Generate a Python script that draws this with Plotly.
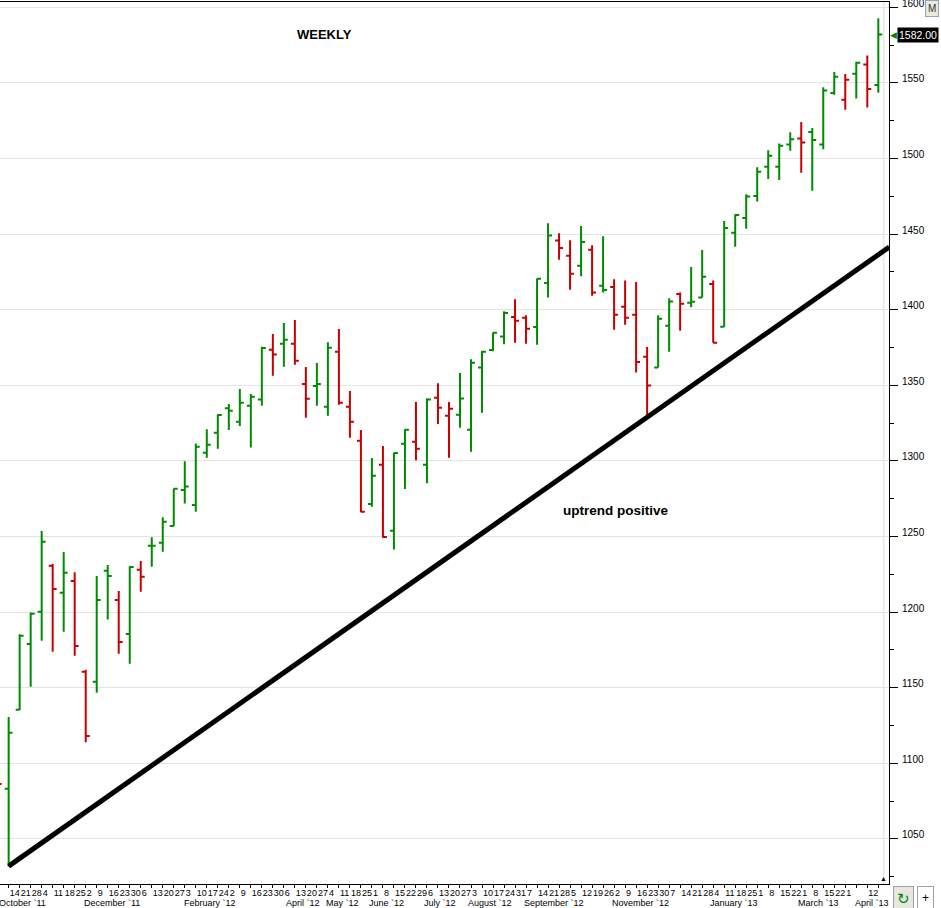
import pandas as pd
import plotly.graph_objects as go


# weekly bars, week ending on friday (the first one is cut off at the left edge)
weeks = pd.date_range("2011-10-07", periods=81, freq="W-FRI")

opens = [1150.0, 1083.2, 1135.5, 1178.9, 1200.3, 1230.7, 1212.8, 1220.6, 1160.6, 1154.0,
         1227.4, 1208.0, 1185.5, 1228.1, 1243.9, 1245.9, 1256.9, 1280.8, 1270.8, 1305.4,
         1318.6, 1334.8, 1325.9, 1336.5, 1340.7, 1373.6, 1377.5, 1377.5, 1350.9, 1349.5,
         1335.9, 1372.2, 1335.9, 1313.4, 1271.5, 1297.5, 1253.9, 1311.4, 1312.7, 1297.5,
         1341.8, 1329.9, 1330.6, 1320.6, 1361.7, 1373.3, 1382.2, 1395.2, 1394.7, 1388.6,
         1417.7, 1445.7, 1435.7, 1429.1, 1439.7, 1415.9, 1415.0, 1402.0, 1396.7, 1368.9,
         1361.7, 1389.4, 1410.4, 1404.6, 1408.0, 1417.0, 1388.8, 1450.9, 1460.6, 1475.2,
         1494.6, 1494.6, 1509.2, 1513.3, 1517.5, 1509.2, 1543.3, 1538.9, 1556.1, 1562.1,
         1548.6]
highs = [1170.0, 1130.6, 1185.3, 1199.8, 1253.6, 1231.8, 1239.7, 1226.3, 1161.9, 1223.9,
         1231.1, 1213.9, 1230.3, 1233.8, 1249.6, 1262.7, 1281.8, 1299.7, 1311.6, 1320.9,
         1330.8, 1337.6, 1347.5, 1344.2, 1375.5, 1384.0, 1391.2, 1393.2, 1362.1, 1364.7,
         1378.5, 1387.2, 1346.2, 1320.4, 1301.9, 1309.9, 1305.4, 1320.9, 1338.9, 1341.4,
         1351.3, 1338.9, 1358.1, 1367.2, 1372.7, 1385.0, 1398.9, 1406.9, 1396.3, 1420.7,
         1457.1, 1450.5, 1445.9, 1455.4, 1442.6, 1448.5, 1420.1, 1419.4, 1418.3, 1375.3,
         1396.3, 1407.5, 1411.3, 1428.2, 1439.5, 1419.4, 1458.7, 1463.1, 1476.3, 1494.2,
         1505.4, 1510.0, 1517.3, 1524.1, 1520.2, 1547.1, 1557.2, 1555.9, 1564.0, 1568.2,
         1592.7]
lows = [1075.0, 1031.6, 1135.2, 1150.7, 1181.1, 1173.8, 1187.1, 1171.2, 1113.9, 1146.7,
        1195.2, 1172.5, 1165.9, 1213.5, 1230.0, 1240.0, 1256.9, 1271.9, 1266.4, 1302.1,
        1308.1, 1320.4, 1323.1, 1308.8, 1336.5, 1356.4, 1362.3, 1363.6, 1328.6, 1336.5,
        1329.9, 1337.2, 1315.4, 1266.0, 1269.7, 1249.2, 1241.5, 1281.4, 1300.4, 1285.2,
        1324.4, 1302.1, 1322.0, 1306.1, 1331.9, 1372.5, 1377.1, 1378.2, 1377.5, 1376.9,
        1408.0, 1433.1, 1413.2, 1422.1, 1409.3, 1411.3, 1386.8, 1390.1, 1358.4, 1329.9,
        1361.7, 1372.2, 1386.1, 1401.6, 1408.0, 1378.2, 1388.8, 1441.7, 1453.6, 1471.5,
        1486.4, 1485.8, 1505.2, 1490.6, 1478.7, 1506.1, 1542.2, 1532.3, 1539.6, 1533.8,
        1543.5]
closes = [1086.3, 1120.3, 1184.4, 1198.9, 1246.6, 1215.3, 1226.1, 1177.6, 1118.0, 1208.0,
          1223.9, 1180.2, 1229.8, 1223.4, 1243.9, 1259.8, 1281.6, 1283.0, 1309.4, 1310.7,
          1330.4, 1333.2, 1338.5, 1342.5, 1374.7, 1370.3, 1380.2, 1366.3, 1341.1, 1350.9,
          1374.9, 1338.5, 1325.9, 1266.4, 1290.2, 1249.7, 1305.2, 1320.6, 1308.1, 1340.7,
          1335.2, 1334.5, 1341.2, 1365.0, 1372.2, 1384.8, 1397.8, 1392.7, 1387.4, 1420.5,
          1449.0, 1440.8, 1423.8, 1444.8, 1411.3, 1413.0, 1396.7, 1394.7, 1365.4, 1349.8,
          1394.1, 1405.5, 1404.0, 1405.3, 1421.8, 1378.2, 1454.0, 1462.6, 1474.8, 1491.3,
          1501.9, 1508.5, 1512.7, 1510.5, 1512.2, 1544.9, 1554.1, 1552.1, 1563.4, 1546.0,
          1582.0]

week_labels = ["7", "14", "21", "28", "4", "11", "18", "25", "2", "9",
               "16", "23", "30", "6", "13", "20", "27", "3", "10", "17",
               "24", "2", "9", "16", "23", "30", "6", "13", "20", "27",
               "4", "11", "18", "25", "1", "8", "15", "22", "29", "6",
               "13", "20", "27", "3", "10", "17", "24", "31", "7", "14",
               "21", "28", "5", "12", "19", "26", "2", "9", "16", "23",
               "30", "7", "14", "21", "28", "4", "11", "18", "25", "1",
               "8", "15", "22", "1", "8", "15", "22", "1", "", "12",
               ""]

month_names = ["October `11", "December `11", "February `12", "April `12", "May `12",
               "June `12", "July `12", "August `12", "September `12", "November `12",
               "January `13", "March `13", "April `13"]
month_pos = ["2011-10-23", "2011-12-19", "2012-02-19", "2012-04-18", "2012-05-13",
             "2012-06-10", "2012-07-14", "2012-08-15", "2012-09-25", "2012-11-19",
             "2013-01-17", "2013-03-12", "2013-04-15"]

trend_dates = ["2011-10-14", "2013-04-26"]
trend_values = [1032.0, 1441.5]

GREEN = "#008c00"
RED = "#c80000"

# bar colour follows the close of the week before
up = [closes[0] > opens[0]] + [closes[i] > closes[i - 1] for i in range(1, len(closes))]

fig = go.Figure()

for flag, col in ((True, GREEN), (False, RED)):
    idx = [i for i, u in enumerate(up) if u == flag]
    fig.add_trace(go.Ohlc(
        x=[weeks[i] for i in idx],
        open=[opens[i] for i in idx],
        high=[highs[i] for i in idx],
        low=[lows[i] for i in idx],
        close=[closes[i] for i in idx],
        increasing_line_color=col,
        decreasing_line_color=col,
        line_width=2,
        tickwidth=0.36,
        hoverinfo="skip",
    ))

fig.add_trace(go.Scatter(x=trend_dates, y=trend_values, mode="lines",
                         line=dict(color="black", width=5), hoverinfo="skip"))

x_left = weeks[1] - pd.Timedelta(days=5.5)
x_right = weeks[-1] + pd.Timedelta(days=6.8)
now_line = weeks[-1] + pd.Timedelta(days=3.5)

fig.update_layout(
    width=941,
    height=908,
    margin=dict(l=0, r=52, t=2, b=24),
    paper_bgcolor="white",
    plot_bgcolor="white",
    showlegend=False,
    font=dict(family="Liberation Sans, Arial, sans-serif", size=10, color="black"),
    xaxis=dict(
        type="date",
        range=[x_left, x_right],
        rangeslider=dict(visible=False),
        automargin=False,
        tickmode="array",
        tickvals=list(weeks),
        ticktext=week_labels,
        tickangle=0,
        ticks="outside",
        ticklen=3,
        tickcolor="black",
        ticklabelposition="outside right",
        tickfont=dict(size=9),
        showgrid=False,
        zeroline=False,
        showline=True,
        linecolor="black",
        linewidth=1,
        mirror=True,
    ),
    yaxis=dict(
        side="right",
        range=[1020.2, 1603.5],
        automargin=False,
        tick0=1000,
        dtick=50,
        ticks="outside",
        ticklen=8,
        tickcolor="black",
        ticklabelstandoff=2,
        ticklabelshift=-4,
        ticklabeloverflow="allow",
        showgrid=True,
        gridcolor="#e4e4e4",
        gridwidth=1,
        minor=dict(tick0=1000, dtick=25, ticks="outside", ticklen=4,
                   tickcolor="black", showgrid=False),
        showline=True,
        linecolor="black",
        linewidth=1,
        zeroline=False,
    ),
)

fig.add_shape(type="line", xref="x", yref="paper", x0=now_line, x1=now_line, y0=0, y1=1,
              line=dict(color="#dcdcdc", width=1), layer="below")
fig.add_annotation(text="▲", xref="x", yref="paper", x=now_line, y=0, yanchor="bottom",
                   showarrow=False, font=dict(size=7, color="black"))

fig.add_annotation(text="<b>WEEKLY</b>", xref="paper", yref="paper", x=0.365, y=0.974,
                   showarrow=False, font=dict(size=13, color="black"))
fig.add_annotation(text="<b>uptrend positive</b>", xref="x", yref="y", x="2012-11-03", y=1267,
                   showarrow=False, font=dict(size=13.5, color="black"))

for name, pos in zip(month_names, month_pos):
    fig.add_annotation(text=name, xref="x", yref="paper", x=pos, y=0, yanchor="top",
                       yshift=-12, showarrow=False, font=dict(size=9, color="black"))

# last price tag on the axis
fig.add_annotation(text="◀", xref="paper", yref="y", x=1, y=closes[-1], xanchor="left",
                   xshift=-1, showarrow=False, font=dict(size=9, color=GREEN))
fig.add_annotation(text=f"{closes[-1]:.2f}", xref="paper", yref="y", x=1, y=closes[-1],
                   xanchor="left", xshift=8, showarrow=False, bgcolor="black", borderpad=1,
                   font=dict(size=10.5, color="white"))

# little chart buttons
fig.add_annotation(text="M", xref="paper", yref="paper", x=1, y=1, xanchor="left",
                   yanchor="top", xshift=36, yshift=2, showarrow=False, bgcolor="#ece9d8",
                   bordercolor="#8da2c4", borderwidth=1, borderpad=2,
                   font=dict(size=10, color="#333333"))
fig.add_annotation(text="↻", xref="paper", yref="paper", x=1, y=0, xanchor="left",
                   yanchor="top", xshift=4, yshift=-2, showarrow=False, bgcolor="#e8e6df",
                   bordercolor="#a0a0a0", borderwidth=1, borderpad=3,
                   font=dict(size=15, color=GREEN))
fig.add_annotation(text="+", xref="paper", yref="paper", x=1, y=0, xanchor="left",
                   yanchor="top", xshift=28, yshift=-2, showarrow=False, bgcolor="white",
                   bordercolor="#a0a0a0", borderwidth=1, borderpad=4,
                   font=dict(size=12, color="black"))

fig.write_html("out.html", config={"displayModeBar": False},
               post_script="document.body.style.margin='0';")
